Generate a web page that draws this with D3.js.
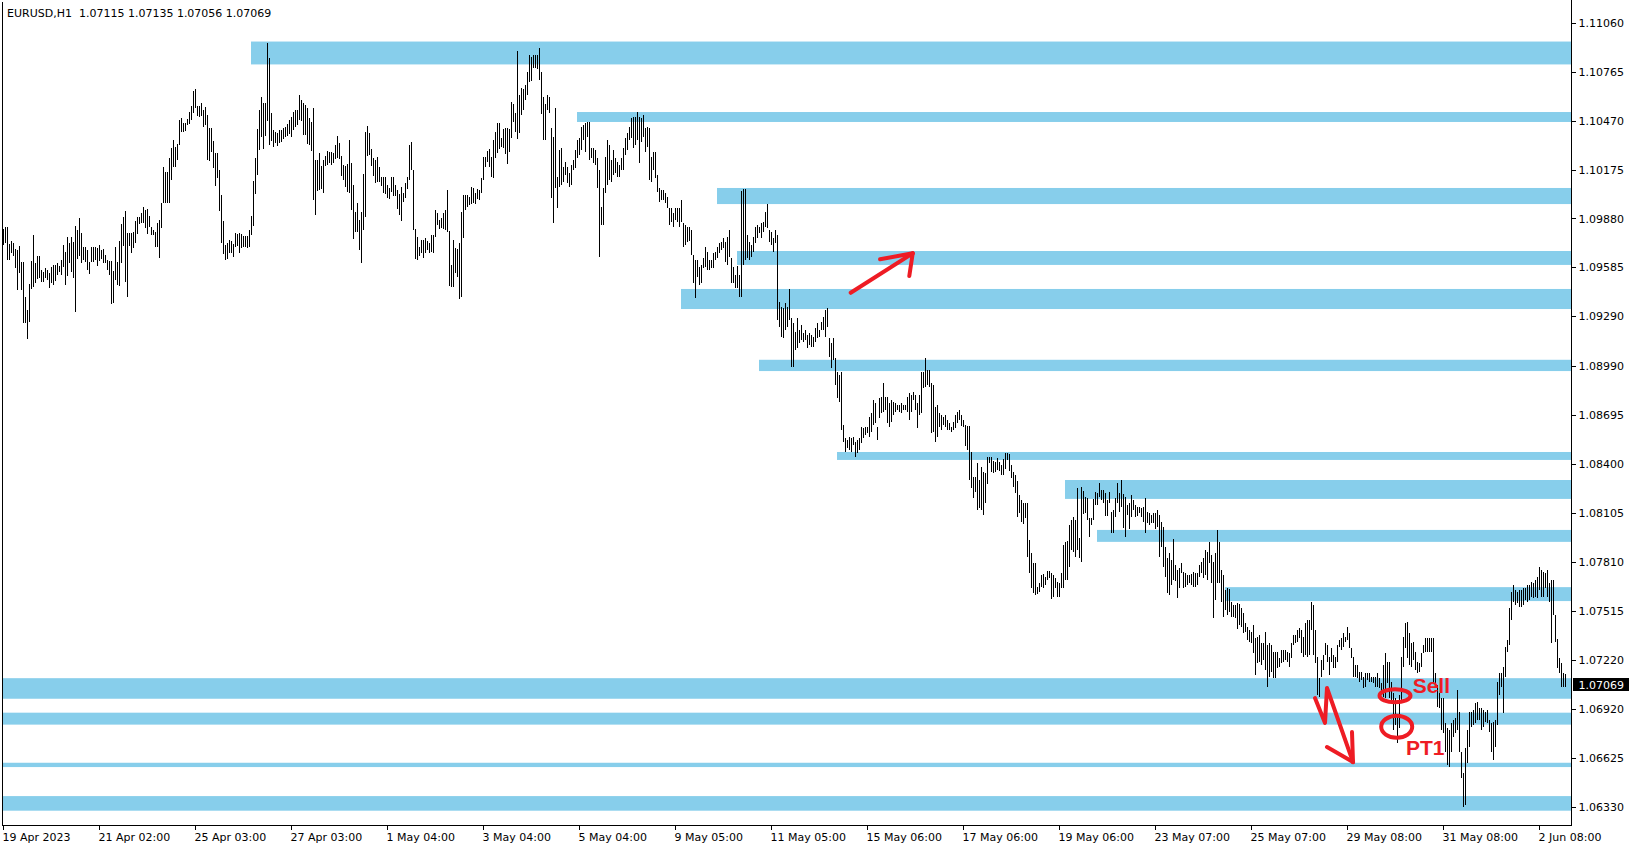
<!DOCTYPE html>
<html>
<head>
<meta charset="utf-8">
<script src="https://cdn.jsdelivr.net/npm/d3@7"></script>
<style>
  body { margin: 0; background: #fff; }
  svg { display: block; }
</style>
</head>
<body>
<div id="chart"></div>
<script>
var symbolTitle = "EURUSD,H1";
var lastOHLC = [1.07115, 1.07135, 1.07056, 1.07069];

// H1 bars, 19 Apr - 2 Jun 2023, in points (price = 1 + points / 100000)
var barHigh = [
  // 19 Apr - 3 May
  9820, 9834, 9834, 9730, 9750, 9734, 9697, 9693, 9718, 9623,
  9623, 9412, 9332, 9488, 9629, 9784, 9617, 9657, 9657, 9573,
  9563, 9583, 9573, 9553, 9589, 9603, 9601, 9613, 9597,
  9633, 9724, 9683, 9774, 9734, 9774, 9744, 9838, 9814, 9888,
  9798, 9710, 9714, 9693, 9623, 9714, 9710, 9714, 9704, 9724,
  9693, 9697, 9661, 9633, 9627, 9629, 9569, 9710, 9619, 9750,
  9850, 9894, 9929, 9794, 9794, 9794, 9804, 9870, 9894, 9894,
  9918, 9955, 9935, 9941, 9900, 9834, 9814, 9804, 9858, 9874,
  9975, 10196, 10166, 10166, 10246, 10306, 10357, 10312, 10333, 10477,
  10487, 10461, 10461, 10481, 10528, 10562, 10654, 10662, 10562, 10562,
  10582, 10538, 10554, 10507, 10427, 10427, 10351, 10280, 10276, 10176,
  10025, 9870, 9724,
  9734, 9754, 9750, 9730, 9794, 9790,
  9794, 9788, 9778, 9780, 9780, 9814, 9898, 10112, 10250, 10421,
  10538, 10618, 10578, 10578, 10944, 10851, 10522, 10417, 10407, 10397,
  10417, 10417, 10431, 10437, 10451, 10477, 10493, 10524, 10538, 10538,
  10628, 10598, 10582, 10568, 10548, 10487, 10467, 10548, 10236, 10236,
  10276, 10200, 10236, 10260, 10292, 10286, 10286, 10280, 10327, 10381,
  10341, 10260, 10206, 10200, 10210, 10357, 10220, 10085, 9925, 9975,
  9874, 9925, 10150, 10407, 10441, 10401, 10300, 10250, 10236, 10256,
  10196, 10136, 10136, 10136, 10085, 10065, 10136, 10136, 10085, 10055,
  10031, 10075, 10039, 10095, 10132, 10327, 10347, 10176, 9818, 9770,
  9714, 9754, 9754, 9764, 9750, 9734, 9784, 9784, 9935, 9915,
  9874, 9884, 9918, 9935, 10055, 9810, 9603, 9754, 9704, 9697,
  9734, 9925, 10025, 10025, 10025, 10011, 10075, 10065, 10035, 10059,
  10055, 10126, 10256, 10252, 10292, 10300, 10256, 10357, 10407, 10457,
  10457, 10367, 10423, 10427, 10427, 10421, 10588, 10574, 10518, 10895,
  10628, 10668, 10662, 10688, 10769, 10869, 10855, 10869, 10869,
  10869, 10909, 10769, 10618, 10574, 10628, 10618, 10427, 10377, 10548,
  // 3 May - 17 May
  10135, 10296, 10306, 10196, 10226, 10196, 10155, 10206, 10236, 10296,
  10356, 10366, 10437, 10447, 10457, 10467, 10467, 10306, 10306, 10296,
  10246, 10176, 9954, 10065, 10256, 10356, 10326, 10236, 10296, 10246,
  10226, 10206, 10246, 10306, 10366, 10397, 10437, 10487, 10497, 10497,
  10527, 10497, 10487, 10507, 10427, 10437, 10427, 10256, 10286, 10286,
  10145, 10065, 10055, 10055, 10035, 10015, 9944, 9944, 9914, 9944,
  9944, 9944, 9995, 9854, 9844, 9834, 9830, 9814, 9663, 9633,
  9633, 9593, 9603, 9643, 9713, 9683, 9633, 9633, 9673, 9683,
  9713, 9733, 9743, 9763, 9743, 9774, 9814, 9643, 9593, 9542,
  9597, 9542, 10051, 10059, 10059, 9784, 9743, 9723, 9774, 9834,
  9844, 9834, 9854, 9864, 9924, 9971, 9814, 9804, 9763, 9814,
  9784, 9382, 9352, 9342, 9372, 9352, 9456, 9281, 9251, 9201,
  9281, 9211, 9241, 9191, 9211, 9181, 9191, 9181, 9171, 9221,
  9251, 9211, 9261, 9291, 9331, 9342, 9161, 9130, 9161, 9040,
  8960, 8940, 8960, 8638, 8558, 8548, 8568, 8558, 8568, 8537,
  8548, 8558, 8628, 8618, 8628, 8628, 8688, 8708, 8789, 8769,
  8628, 8799, 8809, 8889, 8809, 8809, 8769, 8789, 8779, 8769,
  8758, 8758, 8769, 8758, 8758, 8809, 8829, 8819, 8839, 8819,
  8769, 8819, 8960, 8960, 9040, 8970, 8970, 8889, 8879, 8748,
  8758, 8708, 8698, 8688, 8698, 8668, 8648, 8628, 8658, 8698,
  8718, 8728,
  // 17 May - 25 May
  8698, 8668, 8637, 8631, 8631, 8477, 8322, 8322, 8410, 8306,
  8386, 8356, 8350, 8447, 8447, 8443, 8422, 8416, 8436, 8416,
  8396, 8430, 8471, 8467, 8463, 8396, 8356, 8336, 8302, 8215,
  8185, 8169, 8165, 8165, 7944, 7864, 7803, 7803, 7663, 7683,
  7733, 7739, 7723, 7759, 7759, 7743, 7733, 7713, 7693, 7687,
  7743, 7914, 7934, 7940, 8034, 8065, 8085, 8065, 8256, 7954,
  8266, 8242, 8205, 8195, 8075, 8075, 8189, 8235, 8229, 8286,
  8245, 8245, 8225, 8185, 8235, 8115, 8125, 8195, 8286, 8225,
  8306, 8221, 8201, 8155, 8165, 8215, 8185, 8155, 8141, 8145,
  8135, 8145, 8195, 8115, 8105, 8095, 8105, 8105, 8125, 8095,
  8055, 8024, 7904, 7833, 7864, 7823, 7948, 7793, 7763, 7773,
  // 25 May - 2 Jun
  7804, 7754, 7744, 7734, 7734, 7740, 7754, 7744, 7748, 7794,
  7814, 7834, 7884, 7874, 7935, 7854, 7814, 7864, 8005, 7935,
  7764, 7734, 7643, 7653, 7647, 7573, 7553, 7553, 7563, 7559,
  7533, 7502, 7442, 7422, 7402, 7392, 7432, 7352, 7362, 7372,
  7322, 7322, 7392, 7312, 7322, 7312, 7271, 7271, 7271, 7231,
  7281, 7281, 7281, 7271, 7261, 7322, 7372, 7372, 7402, 7412,
  7402, 7362, 7442, 7462, 7462, 7573, 7553, 7402, 7241, 7110,
  7221, 7251, 7322, 7312, 7241, 7291, 7251, 7241, 7312, 7342,
  7352, 7382, 7362, 7422, 7382, 7291, 7241, 7191, 7191, 7150,
  7150, 7120, 7141, 7145, 7141, 7120, 7120, 7120, 7141, 7110,
  7080, 7191, 7261, 7211, 7211, 7090, 7020, 6990, 6889, 7010,
  7241, 7362, 7442, 7452, 7382, 7322, 7332, 7271, 7211, 7201,
  7261, 7312, 7352, 7352, 7352, 7352, 7352, 7141, 7070, 7020,
  6990, 6990, 6839, 6809, 6799, 6839, 6859, 6869, 7040, 6910,
  6668, 6538, 6688, 6799, 6910, 6910, 6920, 6960, 6970, 6930,
  6930, 6920, 6910, 6920, 6859, 6839, 6849, 6859, 7090, 7141,
  7141, 7181, 7301, 7342, 7533, 7633, 7673, 7643, 7633, 7643,
  7643, 7653, 7653, 7673, 7673, 7693, 7683, 7703, 7724, 7784,
  7764, 7754, 7744, 7764, 7683, 7703, 7703, 7492, 7350, 7231,
  7201, 7141, 7135
];

var barLow = [
  // 19 Apr - 3 May
  9724, 9734, 9633, 9633, 9677, 9657, 9585, 9452, 9553, 9452,
  9251, 9251, 9159, 9259, 9460, 9472, 9496, 9517, 9523, 9502,
  9502, 9523, 9513, 9466, 9492, 9482, 9508, 9541, 9561,
  9541, 9589, 9482, 9537, 9613, 9563, 9523, 9322, 9637, 9657,
  9617, 9633, 9619, 9573, 9551, 9619, 9619, 9633, 9597, 9629,
  9637, 9613, 9617, 9573, 9543, 9370, 9376, 9513, 9480, 9476,
  9617, 9718, 9500, 9412, 9720, 9677, 9704, 9734, 9790, 9848,
  9858, 9858, 9824, 9790, 9834, 9784, 9784, 9714, 9714, 9647,
  9828, 9975, 9979, 9979, 9979, 10116, 10192, 10192, 10236, 10324,
  10407, 10407, 10413, 10447, 10453, 10477, 10522, 10552, 10501, 10497,
  10501, 10437, 10447, 10236, 10232, 10286, 10186, 10081, 10126, 9929,
  9734, 9669, 9633,
  9637, 9677, 9677, 9649, 9710, 9718,
  9673, 9704, 9710, 9714, 9706, 9714, 9784, 9840, 10029, 10146,
  10296, 10377, 10300, 10381, 10473, 10327, 10353, 10316, 10341, 10320,
  10337, 10347, 10361, 10377, 10381, 10393, 10377, 10417, 10437, 10447,
  10477, 10473, 10387, 10387, 10331, 10327, 10292, 9995, 9904, 10051,
  10055, 10059, 10039, 10200, 10206, 10220, 10206, 10220, 10240, 10246,
  10240, 10140, 10116, 10071, 10043, 10039, 9935, 9758, 9804, 9804,
  9693, 9613, 9814, 9894, 10260, 10266, 10200, 10140, 10099, 10105,
  10105, 10079, 10039, 10029, 10005, 9999, 10045, 10019, 10019, 9939,
  9904, 9870, 9985, 10005, 10059, 10116, 10176, 9814, 9637, 9633,
  9657, 9677, 9647, 9677, 9693, 9673, 9683, 9673, 9774, 9844,
  9818, 9824, 9818, 9814, 9804, 9476, 9472, 9468, 9553, 9533,
  9396, 9412, 9764, 9935, 9955, 9965, 9971, 9975, 9971, 9999,
  9995, 10035, 10116, 10192, 10226, 10196, 10136, 10130, 10246, 10280,
  10300, 10316, 10306, 10270, 10210, 10286, 10367, 10467, 10407, 10361,
  10397, 10507, 10538, 10598, 10628, 10708, 10714, 10789, 10789,
  10783, 10718, 10514, 10357, 10357, 10538, 10518, 10005, 9854, 10065,
  // 3 May - 17 May
  9944, 10075, 10085, 10105, 10145, 10095, 10075, 10085, 10176, 10186,
  10246, 10266, 10296, 10356, 10286, 10377, 10236, 10246, 10216, 10206,
  10065, 9653, 9844, 9844, 10035, 10085, 10115, 10105, 10145, 10155,
  10135, 10135, 10176, 10176, 10266, 10296, 10356, 10366, 10306, 10326,
  10356, 10216, 10346, 10377, 10286, 10316, 10115, 10105, 10176, 10125,
  10045, 9985, 9995, 9995, 9975, 9944, 9844, 9864, 9834, 9874,
  9864, 9834, 9864, 9713, 9723, 9743, 9750, 9663, 9492, 9402,
  9532, 9482, 9492, 9583, 9593, 9573, 9573, 9583, 9583, 9633,
  9643, 9673, 9693, 9703, 9623, 9603, 9653, 9492, 9492, 9462,
  9462, 9412, 9408, 9603, 9633, 9643, 9633, 9653, 9683, 9733,
  9764, 9794, 9764, 9804, 9834, 9824, 9743, 9723, 9683, 9733,
  9271, 9231, 9171, 9161, 9211, 9231, 9271, 8990, 8990, 9090,
  9100, 9130, 9150, 9140, 9150, 9100, 9120, 9110, 9110, 9140,
  9160, 9171, 9211, 9211, 9171, 9231, 9050, 8980, 9030, 8879,
  8799, 8779, 8608, 8537, 8477, 8497, 8487, 8477, 8517, 8447,
  8467, 8487, 8527, 8558, 8578, 8588, 8568, 8598, 8638, 8648,
  8548, 8678, 8708, 8718, 8728, 8648, 8628, 8658, 8698, 8718,
  8728, 8718, 8708, 8728, 8728, 8718, 8668, 8718, 8789, 8728,
  8618, 8698, 8708, 8859, 8869, 8879, 8869, 8588, 8598, 8537,
  8568, 8628, 8608, 8638, 8628, 8608, 8608, 8598, 8608, 8618,
  8648, 8668,
  // 17 May - 25 May
  8631, 8623, 8511, 8487, 8306, 8256, 8195, 8235, 8125, 8135,
  8125, 8095, 8165, 8282, 8406, 8356, 8350, 8356, 8366, 8362,
  8336, 8336, 8370, 8426, 8362, 8316, 8262, 8225, 8081, 8105,
  8055, 8040, 8075, 7844, 7743, 7653, 7622, 7612, 7618, 7632,
  7663, 7653, 7673, 7703, 7713, 7586, 7602, 7653, 7602, 7598,
  7653, 7653, 7703, 7703, 7783, 7884, 7874, 7844, 7884, 7834,
  7813, 8101, 8105, 8065, 7964, 8034, 8065, 8155, 8155, 8205,
  8185, 8165, 8089, 8089, 8165, 7984, 7984, 8085, 8165, 8115,
  8145, 8014, 7960, 8095, 8008, 8085, 8125, 8085, 8089, 8105,
  8085, 8055, 7984, 8045, 8034, 8045, 8049, 8008, 8024, 7844,
  7904, 7783, 7719, 7622, 7612, 7673, 7703, 7699, 7592, 7653,
  // 25 May - 2 Jun
  7748, 7653, 7663, 7673, 7683, 7673, 7663, 7663, 7673, 7724,
  7744, 7714, 7734, 7704, 7804, 7683, 7472, 7583, 7683, 7683,
  7573, 7482, 7523, 7492, 7513, 7482, 7478, 7472, 7406, 7432,
  7422, 7382, 7392, 7342, 7332, 7322, 7261, 7131, 7201, 7211,
  7191, 7221, 7161, 7060, 7120, 7150, 7110, 7110, 7171, 7181,
  7201, 7211, 7221, 7211, 7181, 7231, 7312, 7322, 7332, 7352,
  7261, 7241, 7251, 7241, 7251, 7402, 7251, 7201, 7010, 7000,
  7120, 7161, 7251, 7211, 7131, 7211, 7171, 7171, 7211, 7302,
  7281, 7302, 7332, 7342, 7291, 7231, 7120, 7120, 7110, 7090,
  7100, 7050, 7060, 7100, 7090, 7090, 7080, 7060, 7060, 7050,
  7030, 7000, 6990, 7080, 6990, 6970, 6799, 6829, 6718, 6809,
  6980, 7181, 7291, 7231, 7191, 7181, 7221, 7161, 7141, 7150,
  7181, 7261, 7271, 7271, 7271, 7271, 7080, 7070, 6940, 6930,
  6799, 6779, 6668, 6588, 6578, 6668, 6759, 6779, 6799, 6668,
  6507, 6337, 6347, 6598, 6698, 6819, 6829, 6839, 6859, 6859,
  6799, 6819, 6849, 6839, 6789, 6668, 6618, 6698, 6829, 7010,
  7060, 6899, 7120, 7271, 7312, 7462, 7573, 7553, 7563, 7543,
  7543, 7553, 7583, 7573, 7583, 7603, 7593, 7603, 7593, 7643,
  7603, 7603, 7653, 7603, 7573, 7322, 7492, 7330, 7171, 7141,
  7060, 7060, 7056
];

var dateLabels = ["19 Apr 2023", "21 Apr 02:00", "25 Apr 03:00", "27 Apr 03:00", "1 May 04:00",
  "3 May 04:00", "5 May 04:00", "9 May 05:00", "11 May 05:00", "15 May 06:00", "17 May 06:00",
  "19 May 06:00", "23 May 07:00", "25 May 07:00", "29 May 08:00", "31 May 08:00", "2 Jun 08:00"];
var dateLabelBars = [0, 48, 96, 144, 192, 240, 288, 336, 384, 432, 480, 528, 576, 624, 672, 720, 768];

var priceLabels = [1.11060, 1.10765, 1.10470, 1.10175, 1.09880, 1.09585, 1.09290, 1.08990, 1.08695,
  1.08400, 1.08105, 1.07810, 1.07515, 1.07220, 1.06920, 1.06625, 1.06330];

// support / resistance zones: first bar, top price, bottom price
var zoneStart = [124, 287, 357, 367, 339, 378, 417, 531, 547, 611, 0, 0, 0, 0];
var zoneTop = [1.10950, 1.10525, 1.10067, 1.09687, 1.09458, 1.09031, 1.08475, 1.08306, 1.08005,
  1.07660, 1.07111, 1.06903, 1.06601, 1.06400];
var zoneBottom = [1.10812, 1.10465, 1.09970, 1.09603, 1.09337, 1.08963, 1.08427, 1.08192, 1.07933,
  1.07576, 1.06987, 1.06831, 1.06575, 1.06312];

// hand drawn marks, [bar, price]
var upArrow = [[423.6, 1.09435], [454.6, 1.09673]];
var upArrowHead = [[[438.3, 1.09637], [454.6, 1.09673]], [[452.9, 1.09536], [454.6, 1.09673]]];
var downArrow = [[655.75, 1.06991], [660.75, 1.06841], [661.75, 1.07052], [674.75, 1.06605]];
var downArrowHead = [[[661.75, 1.06696], [674.75, 1.06605]], [[674.25, 1.06786], [674.75, 1.06605]]];
var sellMark = [695.75, 1.07005];
var pt1Mark = [696.6, 1.06818];
var sellText = [704.6, 1.07020];
var pt1Text = [701.25, 1.06648];

var width = 1635, height = 850;
var plotRight = 1571.5, plotBottom = 825.5;
var red = "#ee1c24";

var toPrice = function (p) { return 1 + p / 100000; };

var x = d3.scaleLinear()
    .domain([0, 781])
    .range([3.5, 1565.5]);

var y = d3.scaleLinear()
    .domain([1.06330, 1.11060])
    .range([807.7, 23.3]);

var svg = d3.select("#chart")
    .append("svg")
    .attr("width", width)
    .attr("height", height)
    .style("font-family", "'DejaVu Sans', sans-serif")
    .style("font-size", "11px");

svg.append("rect")
    .attr("width", width)
    .attr("height", height)
    .attr("fill", "#fff");

// zones
svg.append("g")
  .selectAll("rect")
  .data(zoneStart)
  .enter()
    .append("rect")
    .attr("x", function (d) { return x(d) - 0.5; })
    .attr("y", function (d, i) { return y(zoneTop[i]); })
    .attr("width", function (d) { return 1571 - (x(d) - 0.5); })
    .attr("height", function (d, i) { return y(zoneBottom[i]) - y(zoneTop[i]); })
    .attr("fill", "#87ceeb");

// bars
svg.append("g")
    .attr("shape-rendering", "crispEdges")
  .selectAll("line")
  .data(barHigh)
  .enter()
    .append("line")
    .attr("x1", function (d, i) { return x(i); })
    .attr("x2", function (d, i) { return x(i); })
    .attr("y1", function (d) { return y(toPrice(d)); })
    .attr("y2", function (d, i) { return y(toPrice(barLow[i])); })
    .attr("stroke", "#000")
    .attr("stroke-width", 1);

// annotations
var line = d3.line()
    .x(function (d) { return x(d[0]); })
    .y(function (d) { return y(d[1]); });

var notes = svg.append("g")
    .attr("fill", "none")
    .attr("stroke", red)
    .attr("stroke-width", 4)
    .attr("stroke-linecap", "round")
    .attr("stroke-linejoin", "round");

notes.append("path").attr("d", line(upArrow));
upArrowHead.forEach(function (a) { notes.append("path").attr("d", line(a)); });
notes.append("path").attr("d", line(downArrow));
downArrowHead.forEach(function (a) { notes.append("path").attr("d", line(a)); });

notes.append("ellipse")
    .attr("cx", x(sellMark[0])).attr("cy", y(sellMark[1]))
    .attr("rx", 15.5).attr("ry", 6.5);
notes.append("ellipse")
    .attr("cx", x(pt1Mark[0])).attr("cy", y(pt1Mark[1]))
    .attr("rx", 15.5).attr("ry", 11);

svg.append("text")
    .attr("x", x(sellText[0])).attr("y", y(sellText[1]))
    .attr("fill", red)
    .style("font-family", "'Liberation Sans', Arial, sans-serif")
    .style("font-size", "21px")
    .style("font-weight", "bold")
    .text("Sell");
svg.append("text")
    .attr("x", x(pt1Text[0])).attr("y", y(pt1Text[1]))
    .attr("fill", red)
    .style("font-family", "'Liberation Sans', Arial, sans-serif")
    .style("font-size", "21px")
    .style("font-weight", "bold")
    .text("PT1");

// axes
var xAxis = d3.axisBottom(x)
    .tickValues(dateLabelBars)
    .tickFormat(function (d, i) { return dateLabels[i]; })
    .tickSize(4)
    .tickSizeOuter(0)
    .tickPadding(4)
    .offset(0);

var gx = svg.append("g")
    .attr("transform", "translate(0," + plotBottom + ")")
    .call(xAxis);
gx.select(".domain").remove();
gx.attr("font-family", null).attr("font-size", null);
gx.selectAll("line").attr("stroke", "#000").attr("shape-rendering", "crispEdges");
gx.selectAll("text")
    .attr("text-anchor", "start")
    .attr("x", -1)
    .attr("fill", "#000");

var yAxis = d3.axisRight(y)
    .tickValues(priceLabels)
    .tickFormat(d3.format(".5f"))
    .tickSize(4)
    .tickSizeOuter(0)
    .tickPadding(3)
    .offset(0);

var gy = svg.append("g")
    .attr("transform", "translate(" + plotRight + ",0)")
    .call(yAxis);
gy.select(".domain").remove();
gy.attr("font-family", null).attr("font-size", null);
gy.selectAll("line").attr("stroke", "#000").attr("shape-rendering", "crispEdges");
gy.selectAll("text").attr("fill", "#000");

// frame
var frame = svg.append("g")
    .attr("stroke", "#000")
    .attr("shape-rendering", "crispEdges");
frame.append("line").attr("x1", 2.5).attr("x2", 2.5).attr("y1", 2).attr("y2", plotBottom);
frame.append("line").attr("x1", 2.5).attr("x2", plotRight).attr("y1", plotBottom).attr("y2", plotBottom);
frame.append("line").attr("x1", plotRight).attr("x2", plotRight).attr("y1", 0).attr("y2", plotBottom);

// current price tag
var lastY = y(lastOHLC[3]);
svg.append("rect")
    .attr("x", 1573)
    .attr("y", Math.round(lastY) - 7)
    .attr("width", 56)
    .attr("height", 13)
    .attr("fill", "#000");
svg.append("text")
    .attr("x", 1578.5)
    .attr("y", lastY + 4)
    .attr("fill", "#fff")
    .text(d3.format(".5f")(lastOHLC[3]));

// title
svg.append("text")
    .attr("x", 7)
    .attr("y", 16.5)
    .attr("fill", "#000")
    .style("white-space", "pre")
    .text(symbolTitle + "  " + lastOHLC.map(d3.format(".5f")).join(" "));
</script>
</body>
</html>
